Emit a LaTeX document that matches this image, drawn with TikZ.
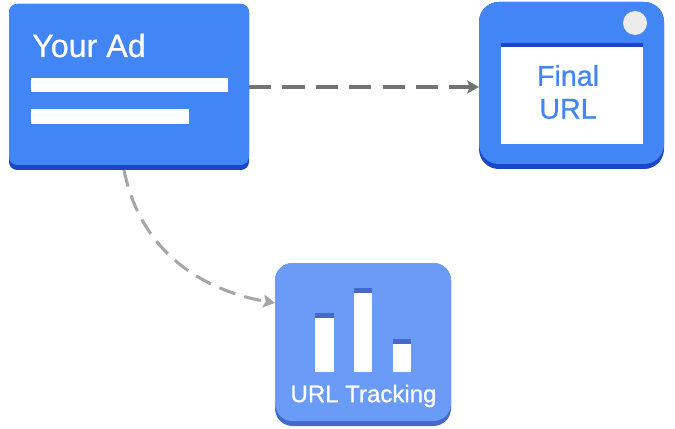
\documentclass[tikz,border=0pt]{standalone}
\usepackage{fontspec}
\setmainfont[RawFeature={embolden=0.7}]{Liberation Sans}
\usetikzlibrary{arrows.meta}
\definecolor{adblue}{HTML}{4285F4}
\definecolor{addark}{HTML}{1A47C8}
\definecolor{trackblue}{HTML}{699BF7}
\definecolor{trackdark}{HTML}{4468CC}
\tikzset{
  card/.style={inner sep=0pt,outer sep=0pt},
  link/.style={-{Stealth[length=10pt,width=11pt,inset=2pt]}},
}
\begin{document}
\begin{tikzpicture}[x=.03cm,y=-.03cm]
    \useasboundingbox (0,0) rectangle (675,429);
    % your ad
    \node[card,fill=addark,rounded corners=7pt,minimum width=240*.03cm,minimum height=166*.03cm] (ad) at (129,87) {};
    \node[card,fill=adblue,rounded corners=7pt,minimum width=240*.03cm,minimum height=161*.03cm] (adface) at (129,84.5) {};
    \node[anchor=base west,text=white,inner sep=0pt,font=\fontsize{27.5}{27.5}\selectfont] (adtitle) at (32,57) {Your Ad};
    \fill[white] (31,78) rectangle (228,92.5);
    \fill[white] (31,109) rectangle (189,124);
    % final url
    \node[card,fill=addark,rounded corners=17pt,minimum width=185*.03cm,minimum height=167*.03cm] (final) at (571.5,85.5) {};
    \node[card,fill=adblue,rounded corners=17pt,minimum width=185*.03cm,minimum height=162*.03cm] (finalface) at (571.5,83) {};
    \fill[white] (501,43) rectangle (643,144);
    \fill[addark] (501,43) rectangle (643,47);
    \fill[gray!15] (635,23) circle (12);
    \node[align=center,text=adblue,inner sep=0pt,font=\fontsize{24.5}{28}\selectfont] (finaltext) at (568,92) {Final\\URL};
    % url tracking
    \node[card,fill=trackdark,rounded corners=15pt,minimum width=176*.03cm,minimum height=163*.03cm] (track) at (363,344.5) {};
    \node[card,fill=trackblue,rounded corners=15pt,minimum width=176*.03cm,minimum height=158*.03cm] (trackface) at (363,342) {};
    \fill[white] (315,313) rectangle (334,372);
    \fill[trackdark] (315,313) rectangle (334,318);
    \fill[white] (354,288) rectangle (372,372);
    \fill[trackdark] (354,288) rectangle (372,293);
    \fill[white] (393,339) rectangle (411,372);
    \fill[trackdark] (393,339) rectangle (411,344);
    \node[text=white,inner sep=0pt,font=\fontsize{20.5}{22}\selectfont] (tracktext) at (363.5,396) {URL Tracking};
    % links
    \coordinate (adfoot) at (124,170);
    \coordinate (trackside) at (275,303);
    \draw[link,dash pattern=on 19pt off 9.5pt,line width=3pt,color=black!55] (ad.east) -- (ad.east -| final.west);
    \draw[link,dash pattern=on 14.5pt off 8pt,line width=2.6pt,color=black!35] (adfoot) .. controls (140,250) and (200,290) .. (trackside);
  \end{tikzpicture}
\end{document}
